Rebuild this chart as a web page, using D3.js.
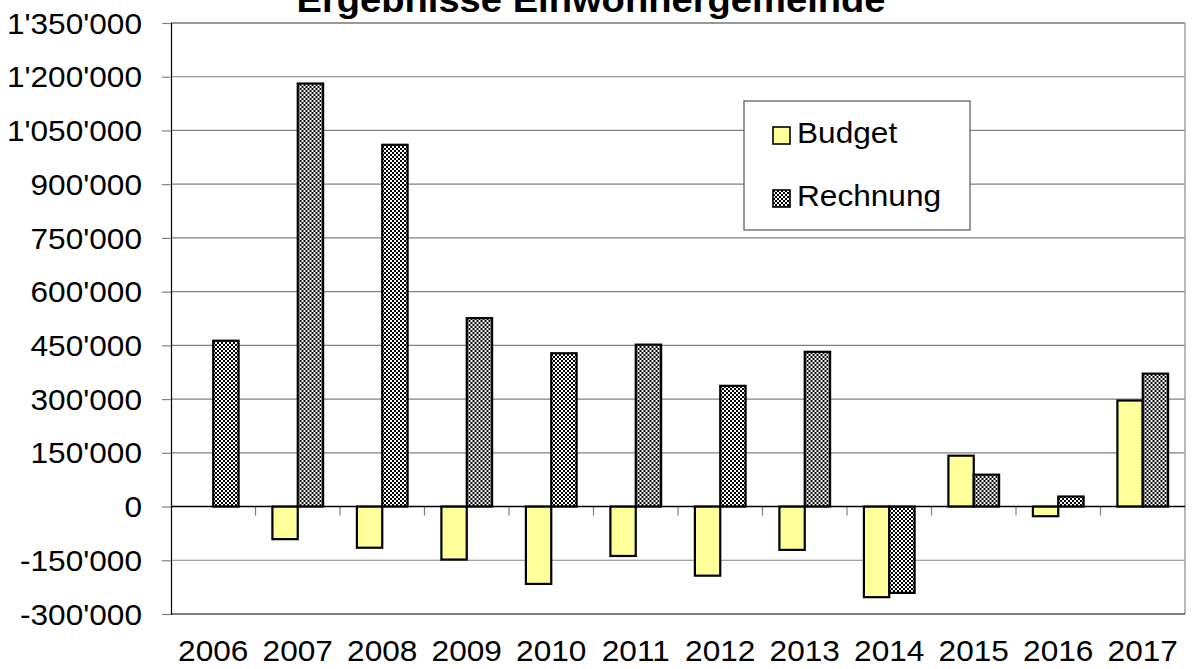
<!DOCTYPE html>
<html>
<head>
<meta charset="utf-8">
<script src="https://cdn.jsdelivr.net/npm/d3@7"></script>
<style>
  html, body { margin: 0; padding: 0; background: #fff; }
  svg { display: block; font-family: "Liberation Sans", Arial, Helvetica, sans-serif; }
</style>
</head>
<body>
<svg id="chart" width="1196" height="669"></svg>
<script>
const title = "Ergebnisse Einwohnergemeinde";
const years = ["2006","2007","2008","2009","2010","2011","2012","2013","2014","2015","2016","2017"];
const seriesNames = ["Budget", "Rechnung"];
const budget   = [null, -91000, -115000, -148000, -216000, -138000, -193000, -121000, -253000, 142000, -27000, 296000];
const rechnung = [463000, 1181000, 1010000, 526000, 428000, 452000, 337000, 432000, -241000, 89000, 28000, 371000];
const yTicks = [-300000, -150000, 0, 150000, 300000, 450000, 600000, 750000, 900000, 1050000, 1200000, 1350000];

const svg = d3.select("#chart");
const m = { left: 171, right: 1185, top: 23, bottom: 614 };
const SX = 1.09; // horizontal stretch of text as in the reference

const locale = d3.formatLocale({ decimal: ".", thousands: "'", grouping: [3], currency: ["", ""], minus: "-" });
const fmt = locale.format(",d");

const x0 = d3.scaleBand().domain(years).range([m.left, m.right]).padding(0);
const x1 = d3.scaleBand().domain(seriesNames).range([x0.bandwidth() * 0.2, x0.bandwidth() * 0.8]).padding(0);
const y = d3.scaleLinear().domain([-300000, 1350000]).range([m.bottom, m.top]);

// stretch helper: moves x/y into a transform and scales horizontally around the anchor
function stretch(sel) {
  sel.each(function () {
    const t = d3.select(this);
    const xx = +t.attr("x") || 0, yy = +t.attr("y") || 0;
    t.attr("x", 0).attr("y", 0).attr("transform", `translate(${xx},${yy}) scale(${SX},1)`);
  });
}

// pattern
const defs = svg.append("defs");
const pat = defs.append("pattern").attr("id", "checker").attr("patternUnits", "userSpaceOnUse")
  .attr("width", 4).attr("height", 4);
pat.append("rect").attr("width", 4).attr("height", 4).attr("fill", "#fff");
pat.append("rect").attr("x", 0).attr("y", 0).attr("width", 2).attr("height", 2).attr("fill", "#000");
pat.append("rect").attr("x", 2).attr("y", 2).attr("width", 2).attr("height", 2).attr("fill", "#000");

// gridlines
svg.append("g").selectAll("line").data(yTicks.filter(t => t !== 0 && t !== -300000)).join("line")
  .attr("x1", m.left).attr("x2", m.right)
  .attr("y1", d => y(d)).attr("y2", d => y(d))
  .attr("stroke", d => d === 1350000 ? "#333" : "#808080").attr("stroke-width", 1.2);

// right border
svg.append("line").attr("x1", m.right).attr("x2", m.right).attr("y1", m.top).attr("y2", m.bottom)
  .attr("stroke", "#a0a0a0").attr("stroke-width", 1.5);
// bottom border
svg.append("line").attr("x1", m.left).attr("x2", m.right).attr("y1", m.bottom).attr("y2", m.bottom)
  .attr("stroke", "#000").attr("stroke-width", 1.2);

// y axis
const yAxis = d3.axisLeft(y).tickValues(yTicks).tickFormat(fmt).tickSize(9).tickPadding(0);
const gy = svg.append("g").attr("transform", `translate(${m.left},0)`).call(yAxis);
gy.select(".domain").attr("stroke", "#000").attr("stroke-width", 1.2);
gy.selectAll(".tick line").attr("stroke", "#808080").attr("stroke-width", 1.2);
gy.selectAll(".tick text").attr("font-size", 29).attr("fill", "#000")
  .attr("font-family", "'Liberation Sans', Arial, sans-serif")
  .attr("x", -29).attr("dy", "0.35em").call(stretch);

// category separator ticks below zero
svg.append("g").selectAll("line").data(years.slice(1)).join("line")
  .attr("x1", d => x0(d)).attr("x2", d => x0(d))
  .attr("y1", y(0)).attr("y2", y(0) + 9)
  .attr("stroke", "#808080").attr("stroke-width", 1.2);

// bars
const rows = years.map((yr, i) => ({ year: yr, values: [
  { key: "Budget", v: budget[i] }, { key: "Rechnung", v: rechnung[i] }
].filter(d => d.v !== null) }));

const g = svg.append("g").selectAll("g").data(rows).join("g")
  .attr("transform", d => `translate(${x0(d.year)},0)`);
g.selectAll("rect").data(d => d.values).join("rect")
  .attr("x", d => x1(d.key))
  .attr("width", x1.bandwidth())
  .attr("y", d => y(Math.max(0, d.v)))
  .attr("height", d => Math.abs(y(d.v) - y(0)))
  .attr("fill", d => d.key === "Budget" ? "#FFFF99" : "url(#checker)")
  .attr("stroke", "#000").attr("stroke-width", 2.2);

// zero line
svg.append("line").attr("x1", m.left).attr("x2", m.right).attr("y1", y(0)).attr("y2", y(0))
  .attr("stroke", "#000").attr("stroke-width", 1.4);

// x labels
const xAxis = d3.axisBottom(x0).tickSize(0).tickPadding(0);
const gx = svg.append("g").attr("transform", `translate(0,${m.bottom})`).call(xAxis);
gx.select(".domain").remove();
gx.selectAll(".tick text").attr("font-size", 29).attr("fill", "#000")
  .attr("font-family", "'Liberation Sans', Arial, sans-serif")
  .attr("dy", 0).attr("y", 47).call(stretch);

// legend
const lg = svg.append("g");
lg.append("rect").attr("x", 744).attr("y", 101).attr("width", 226).attr("height", 129)
  .attr("fill", "#fff").attr("stroke", "#555").attr("stroke-width", 1.2);
const li = lg.selectAll("g").data(seriesNames).join("g")
  .attr("transform", (d, i) => `translate(773,${127 + i * 63})`);
li.append("rect").attr("width", 17).attr("height", 17)
  .attr("fill", d => d === "Budget" ? "#FFFF99" : "url(#checker)")
  .attr("stroke", "#000").attr("stroke-width", 1.6);
li.append("text").attr("x", 24).attr("y", 16).attr("font-size", 29).attr("fill", "#000").text(d => d).call(stretch);

// title
svg.append("text").attr("x", 591).attr("y", 12).attr("text-anchor", "middle")
  .attr("font-size", 35).attr("font-weight", "bold").attr("fill", "#000").text(title).call(stretch);
</script>
</body>
</html>
